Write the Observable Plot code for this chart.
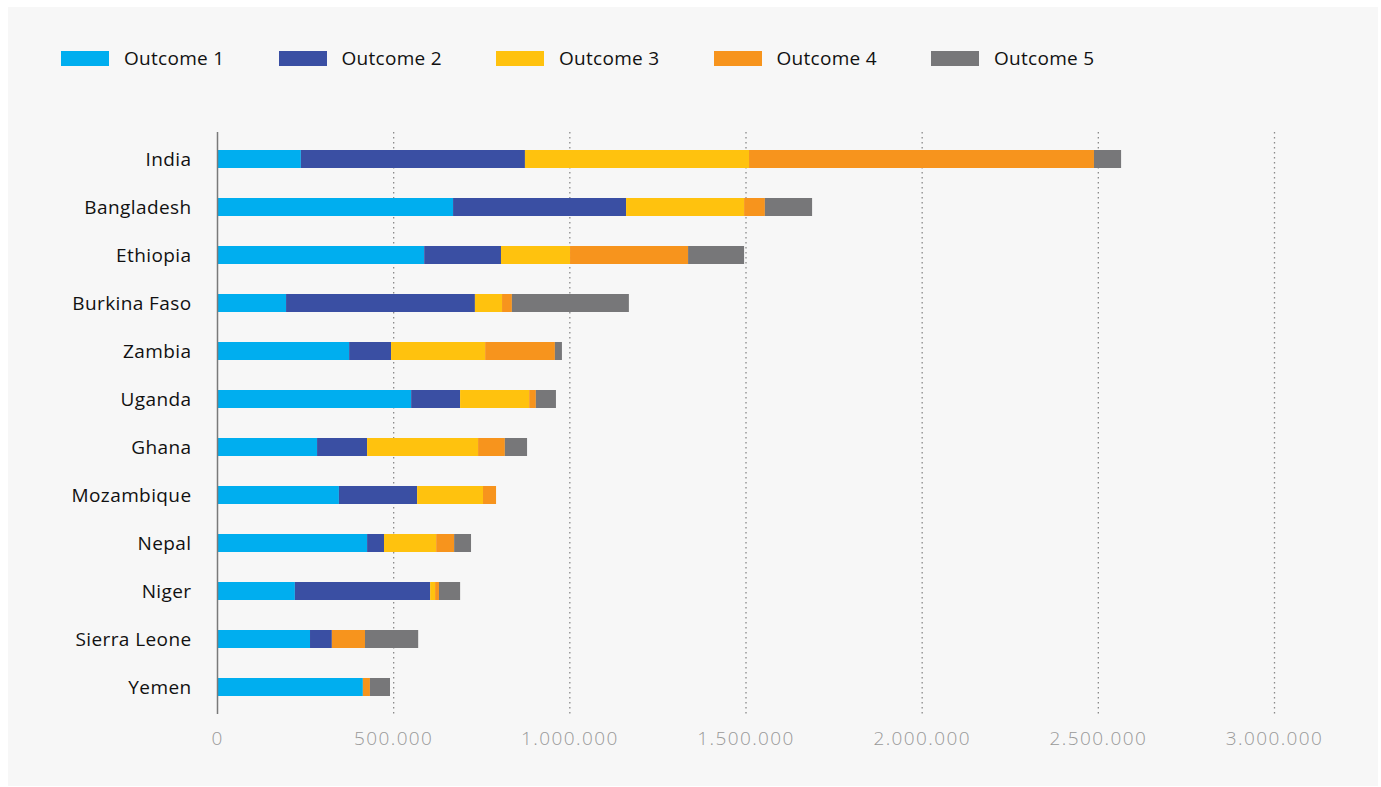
<!DOCTYPE html>
<html>
<head>
<meta charset="utf-8">
<script src="https://cdn.jsdelivr.net/npm/d3@7"></script>
<script src="https://cdn.jsdelivr.net/npm/@observablehq/plot@0.6"></script>
<style>
  html, body { margin: 0; padding: 0; background: #ffffff; }
  #panel { position: absolute; left: 8px; top: 7px; width: 1370px; height: 779px; background: #f7f7f7; overflow: hidden; }
  #legend { position: absolute; left: 53px; top: 38px; display: flex; align-items: center; font-family: "Open Sans", sans-serif; font-size: 19px; font-weight: 500; letter-spacing: 0.3px; color: #111; }
  .item { display: flex; align-items: center; margin-right: 54px; }
  .sw { width: 48px; height: 15px; margin-right: 15px; }
  #chart { position: absolute; left: 0; top: 93px; }
  #chart g[aria-label="x-axis tick label"] text { letter-spacing: 1.4px; font-weight: 300; }
  #chart g[aria-label="y-axis tick label"] text { letter-spacing: 0.4px; font-weight: 500; }
</style>
</head>
<body>
<div id="panel">
  <div id="legend"></div>
  <div id="chart"></div>
</div>
<script>
const countries = ["India","Bangladesh","Ethiopia","Burkina Faso","Zambia","Uganda","Ghana","Mozambique","Nepal","Niger","Sierra Leone","Yemen"];
const outcomes = ["Outcome 1","Outcome 2","Outcome 3","Outcome 4","Outcome 5"];
const colors = ["#00aeef","#3a4fa3","#ffc20e","#f7941d","#777779"];
const outcome1 = [238000, 670000, 588000, 196000, 375000, 551000, 284000, 346000, 426000, 221000, 264000, 414000];
const outcome2 = [636000, 491000, 218000, 536000, 119000, 139000, 142000, 222000, 48000, 384000, 62000, 0];
const outcome3 = [636000, 335000, 196000, 77000, 267000, 196000, 315000, 187000, 148000, 14000, 0, 0];
const outcome4 = [979000, 59000, 335000, 28000, 198000, 19000, 76000, 37000, 51000, 11000, 94000, 20000];
const outcome5 = [77000, 134000, 159000, 332000, 20000, 57000, 63000, 0, 48000, 60000, 151000, 57000];
const xTicks = [0, 500000, 1000000, 1500000, 2000000, 2500000, 3000000];

const series = [outcome1, outcome2, outcome3, outcome4, outcome5];
const rows = [];
countries.forEach((c, i) => {
  series.forEach((s, j) => rows.push({country: c, outcome: outcomes[j], value: s[i]}));
});

// legend
const legend = document.getElementById("legend");
outcomes.forEach((o, j) => {
  const it = document.createElement("div");
  it.className = "item";
  const sw = document.createElement("div");
  sw.className = "sw";
  sw.style.background = colors[j];
  const tx = document.createElement("span");
  tx.textContent = o;
  it.appendChild(sw); it.appendChild(tx);
  legend.appendChild(it);
});

const fmt = d => d3.format(",")(d).replace(/,/g, ".");

const chart = Plot.plot({
  width: 1370,
  height: 686,
  marginLeft: 209,
  marginRight: 104,
  marginTop: 32,
  marginBottom: 72,
  style: {background: "transparent", fontFamily: "'Open Sans', sans-serif"},
  x: {domain: [0, 3000000], ticks: xTicks, tickFormat: fmt, label: null},
  y: {domain: countries, paddingInner: 0.63, paddingOuter: 0.35, label: null},
  color: {domain: outcomes, range: colors},
  marks: [
    Plot.ruleX(xTicks.filter(d => d > 0), {stroke: "#8a8a8a", strokeWidth: 1.3, strokeDasharray: "1.5,3.5"}),
    Plot.barX(rows, Plot.stackX({x: "value", y: "country", fill: "outcome", order: null})),
    Plot.ruleX([0], {stroke: "#7a7a7a", strokeWidth: 1.5}),
    Plot.axisX({ticks: xTicks, tickFormat: fmt, tickSize: 0, tickPadding: 17, fontSize: 19, fill: "#999999", label: null}),
    Plot.axisY({tickSize: 0, tickPadding: 26, fontSize: 19, fill: "#111", label: null})
  ]
});
document.getElementById("chart").appendChild(chart);
</script>
</body>
</html>
